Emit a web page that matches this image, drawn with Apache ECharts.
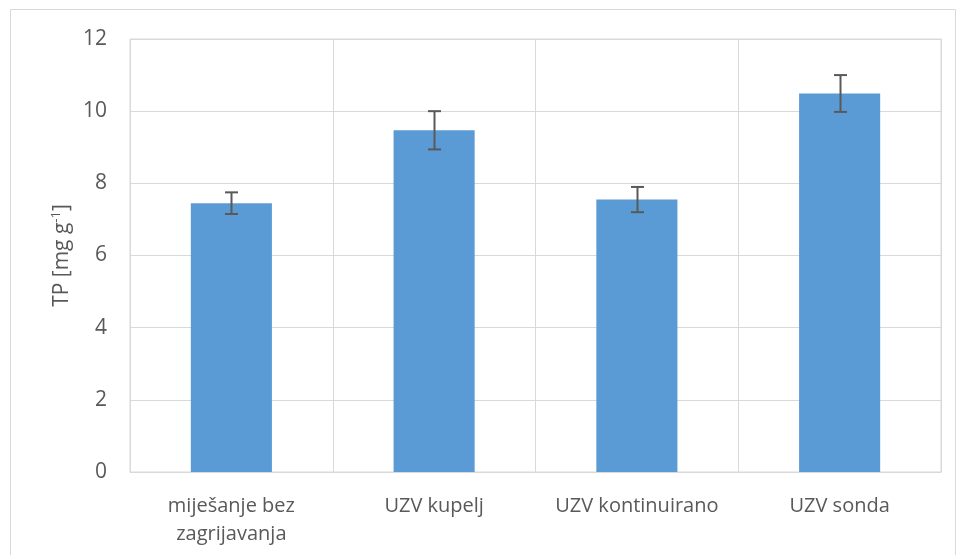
<!DOCTYPE html>
<html><head><meta charset="utf-8">
<script src="https://cdn.jsdelivr.net/npm/echarts@6/dist/echarts.min.js"></script>
<style>html,body{margin:0;padding:0;background:#fff}#c{width:957px;height:555px}</style>
</head><body><div id="c"></div>
<script>
const categories = ['miješanje bez\nzagrijavanja', 'UZV kupelj', 'UZV kontinuirano', 'UZV sonda'];
const values = [7.45, 9.47, 7.55, 10.49];
const errors = [0.30, 0.53, 0.35, 0.51];
const yTicks = [0, 2, 4, 6, 8, 10, 12];

const chart = echarts.init(document.getElementById('c'));
const FONT = 'Open Sans';
chart.setOption({
  animation: false,
  backgroundColor: '#fff',
  graphic: [{
    type: 'rect', shape: {x: 10.5, y: 9.5, width: 945, height: 560},
    style: {fill: 'none', stroke: '#d9d9d9', lineWidth: 1}, silent: true, z: -1
  }],
  grid: {left: 130, right: 16, top: 39, bottom: 83, show: true, borderColor: '#d9d9d9', borderWidth: 1},
  xAxis: {
    type: 'category', data: categories,
    axisLine: {show: true, lineStyle: {color: '#d9d9d9', width: 1}},
    axisTick: {show: false},
    splitLine: {show: true, lineStyle: {color: '#d9d9d9', width: 1}},
    axisLabel: {color: '#595959', fontFamily: FONT, fontSize: 20, margin: 20, lineHeight: 28, interval: 0}
  },
  yAxis: {
    type: 'value', min: yTicks[0], max: yTicks[yTicks.length - 1], interval: 2,
    axisLine: {show: false}, axisTick: {show: false},
    splitLine: {show: true, lineStyle: {color: '#d9d9d9', width: 1}},
    axisLabel: {color: '#595959', fontFamily: FONT, fontSize: 21, margin: 23},
    name: '{a|TP [mg g}{b|-1}{a|]}',
    nameLocation: 'middle', nameGap: 56, nameRotate: 90,
    nameTextStyle: {
      rich: {
        a: {color: '#595959', fontFamily: FONT, fontSize: 21},
        b: {color: '#595959', fontFamily: FONT, fontSize: 13, verticalAlign: 'top', padding: [0, 0, 10, 0]}
      }
    }
  },
  series: [{
    type: 'bar', data: values, barWidth: '40%',
    itemStyle: {color: '#5b9bd5'}, z: 2
  }, {
    type: 'custom', z: 3,
    data: values.map((v, i) => [i, v - errors[i], v + errors[i]]),
    renderItem: function (params, api) {
      const lo = api.coord([api.value(0), api.value(1)]);
      const hi = api.coord([api.value(0), api.value(2)]);
      const x = Math.round(lo[0]) + 0.5, hw = 6.5;
      const st = {stroke: '#595959', lineWidth: 2, fill: 'none'};
      return {type: 'group', children: [
        {type: 'line', shape: {x1: x, y1: hi[1], x2: x, y2: lo[1]}, style: st},
        {type: 'line', shape: {x1: x - hw, y1: hi[1], x2: x + hw, y2: hi[1]}, style: st},
        {type: 'line', shape: {x1: x - hw, y1: lo[1], x2: x + hw, y2: lo[1]}, style: st}
      ]};
    }
  }]
});
</script></body></html>
